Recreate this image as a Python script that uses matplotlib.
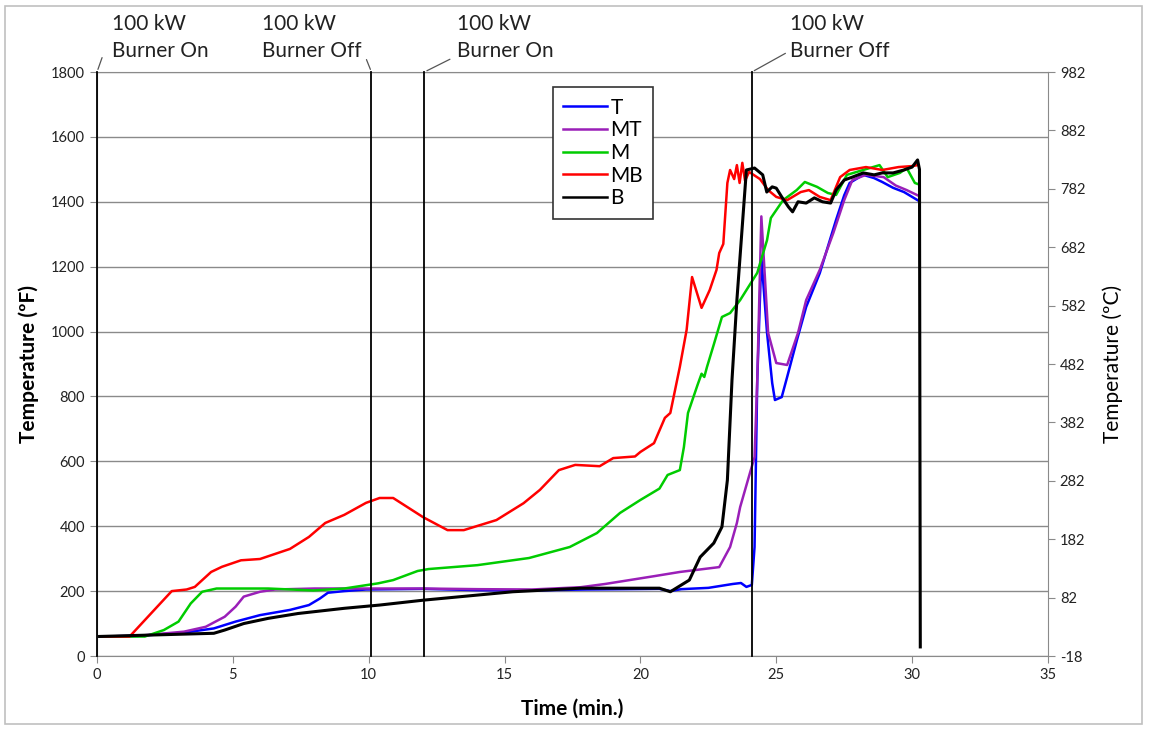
import matplotlib
matplotlib.use("Agg")
import matplotlib.pyplot as plt
from matplotlib.patches import Rectangle

plt.rcParams['font.family'] = ['Lato', 'DejaVu Sans']

# ---- data (time in min, temperature in deg F) ----
t_T = [0, 1.5, 3.2, 4.3, 5.1, 6.0, 7.1, 7.8, 8.2, 8.5, 9.1, 9.9, 12, 14, 16, 18, 20.7, 21.1,
       21.5, 22.5, 23.4, 23.7, 23.9, 24.1, 24.2, 24.3, 24.45, 24.66, 24.85, 24.95, 25.2, 25.4,
       25.76, 26.1, 26.6, 27.2, 27.5, 27.7, 28.2, 28.6, 28.9, 29.3, 29.7, 30.0, 30.2]
T = [60, 62, 72, 85, 106, 126, 142, 157, 177, 195, 200, 205, 207, 203, 202, 205, 207, 200,
     206, 210, 222, 225, 213, 219, 336, 851, 1230, 996, 841, 789, 798, 860,
     974, 1076, 1180, 1344, 1420, 1458, 1483, 1473, 1461, 1443, 1430, 1415, 1405]

t_MT = [0, 1.5, 3.2, 4.0, 4.7, 5.1, 5.4, 6.0, 6.55, 8, 10, 12, 14, 16, 17.8, 18.7, 19.6, 20.5,
        21.45, 22.9, 23.3, 23.55, 23.67, 24.03, 24.2, 24.3, 24.45, 24.7, 25.0, 25.4, 25.8,
        26.1, 26.6, 27.1, 27.5, 27.8, 28.3, 28.95, 29.4, 29.8, 30.2]
MT = [60, 62, 75, 90, 121, 152, 183, 198, 205, 208, 208, 208, 206, 205, 212, 222, 234, 246,
      259, 274, 336, 410, 459, 564, 613, 851, 1355, 996, 903, 897, 996,
      1097, 1190, 1304, 1405, 1467, 1483, 1476, 1450, 1436, 1420]

t_M = [0, 1.76, 2.46, 3.0, 3.45, 3.87, 4.4, 6.3, 7.96, 9.1, 10.35, 10.9, 11.8, 12.2, 14, 15.9,
       17.4, 18.4, 19.25, 20, 20.7, 21.0, 21.45, 21.6, 21.75, 22.1, 22.25, 22.35, 22.45, 22.7,
       23.0, 23.3, 23.67, 24.3, 24.66, 24.8, 25.25, 25.75, 26.05, 26.5, 26.9, 27.2, 27.6, 28.2,
       28.8, 29.1, 29.55, 29.8, 30.1, 30.2]
M = [60, 60, 80, 106, 162, 198, 208, 208, 202, 208, 224, 234, 262, 268, 280, 302,
     336, 379, 441, 481, 516, 558, 573, 644, 749, 835, 870, 860, 891, 960,
     1045, 1057, 1097, 1181, 1282, 1350, 1405, 1436, 1461, 1446, 1427, 1421, 1483, 1498,
     1513, 1476, 1489, 1504, 1458, 1455]

t_MB = [0, 1.2, 2.75, 3.3, 3.6, 4.2, 4.6, 5.3, 6.0, 7.1, 7.8, 8.4, 9.1, 9.9, 10.4, 10.9, 12.0,
        12.9, 13.5, 14.7, 15.7, 16.3, 17.0, 17.6, 18.5, 19.0, 19.8, 20.0, 20.5, 20.9, 21.1,
        21.45, 21.7, 21.9, 22.25, 22.55, 22.8, 22.9, 23.05, 23.2, 23.3, 23.45, 23.55, 23.65,
        23.75, 23.85, 24.0, 24.4, 24.7, 25.0, 25.4, 25.9, 26.2, 26.6, 27.0, 27.35, 27.7, 28.3,
        28.9, 29.5, 30.0, 30.2]
MB = [60, 60, 200, 205, 213, 259, 275, 295, 299, 330, 367, 410, 435, 472, 487, 487, 428,
      388, 388, 419, 471, 512, 573, 589, 585, 610, 615, 629, 656, 734, 749,
      891, 1005, 1168, 1073, 1128, 1190, 1242, 1270, 1458, 1498, 1470, 1513, 1458,
      1520, 1465, 1492, 1470, 1436, 1415, 1405, 1430, 1436, 1415, 1405, 1476, 1498, 1507,
      1498, 1507, 1510, 1513]

t_B = [0, 4.3, 4.7, 5.4, 6.3, 7.4, 9.1, 10.4, 12.0, 15.3, 17.8, 20.7, 21.1, 21.8, 22.2, 22.7,
       23.0, 23.2, 23.37, 23.55, 23.8, 23.9, 24.2, 24.5, 24.65, 24.85, 25.0, 25.2, 25.45, 25.6,
       25.8, 26.1, 26.4, 26.7, 27.0, 27.2, 27.5, 27.8, 28.2, 28.6, 28.9, 29.3, 29.7, 30.0,
       30.2, 30.27, 30.3]
B = [60, 70, 80, 100, 116, 131, 147, 157, 172, 198, 209, 209, 198, 234, 305, 348,
     398, 542, 851, 1097, 1384, 1498, 1504, 1483, 1430, 1446, 1442, 1415, 1384, 1369,
     1400, 1396, 1412, 1400, 1396, 1436, 1467, 1476, 1489, 1483, 1489, 1489, 1498, 1507,
     1529, 1500, 28]

event_times = [0, 10.1, 12.05, 24.1]
event_labels = ["100 kW\nBurner On", "100 kW\nBurner Off", "100 kW\nBurner On", "100 kW\nBurner Off"]

x_ticks = [0, 5, 10, 15, 20, 25, 30, 35]
f_ticks = [0, 200, 400, 600, 800, 1000, 1200, 1400, 1600, 1800]
c_labels = ["-18", "82", "182", "282", "382", "482", "582", "682", "782", "882", "982"]

series = [("T", t_T, T, "#0000ff"),
          ("MT", t_MT, MT, "#9a1fb8"),
          ("M", t_M, M, "#00cc00"),
          ("MB", t_MB, MB, "#ff0000"),
          ("B", t_B, B, "#000000")]

fig = plt.figure(figsize=(11.51, 7.30), dpi=100)
ax = fig.add_axes([97 / 1151, 1 - 656 / 730, (1048 - 97) / 1151, (656 - 72) / 730])

# light outer border of the chart area
fig.patches.append(Rectangle((5 / 1151, 6 / 730), 1137 / 1151, 718 / 730, transform=fig.transFigure,
                             fill=False, edgecolor="#c0c0c0", linewidth=1.2))

ax.set_xlim(0, 35)
ax.set_ylim(0, 1800)
ax.set_xticks(x_ticks)
ax.set_yticks(f_ticks)
ax.yaxis.grid(True, color="#8a8a8a", linewidth=1.0)
ax.set_axisbelow(True)
for sp in ax.spines.values():
    sp.set_color("#8a8a8a")
ax.tick_params(colors="#8a8a8a", labelcolor="#222222", labelsize=10.5, length=5, direction="out")

for name, tt, vv, col in series:
    lw = 2.2 if name == "B" else 1.8
    ax.plot(tt, vv, color=col, linewidth=lw, label=name, solid_joinstyle="round")

# event lines with small leaders to their labels
leader_dx = [6, -6, 28, 36]
leader_dy = [17, 15, 14, 20]
text_x = [112, 262, 457, 790]
for et, lab, dx, dy, tx in zip(event_times, event_labels, leader_dx, leader_dy, text_x):
    ax.plot([et, et], [0, 1800], color="black", linewidth=1.3, zorder=6, clip_on=False)
    x0, y0 = ax.transData.transform((et, 1800))
    ax.annotate("", xy=(x0, y0), xycoords="figure pixels",
                xytext=(x0 + dx, y0 + dy), textcoords="figure pixels",
                arrowprops=dict(arrowstyle="-", color="#555555", linewidth=0.9))
    fig.text(tx / 1151, 1 - 14 / 730, lab, ha="left", va="top", fontsize=15,
             color="#222222", linespacing=1.45)

ax.set_xlabel("Time (min.)", fontsize=15, fontweight="bold", labelpad=12)
ax.set_ylabel("Temperature (ºF)", fontsize=15, fontweight="bold", labelpad=9)

ax2 = ax.twinx()
ax2.set_ylim((0 - 32) / 1.8, (1800 - 32) / 1.8)
c_ticks = [(f - 32) / 1.8 for f in range(0, 1801, 180)]
ax2.set_yticks(c_ticks)
ax2.set_yticklabels(c_labels)
for sp in ax2.spines.values():
    sp.set_visible(False)
ax2.tick_params(colors="#8a8a8a", labelcolor="#222222", labelsize=10.5, length=5, direction="out")
ax2.set_ylabel("Temperature (ºC)", fontsize=15, labelpad=12)

leg = ax.legend(loc="upper left", bbox_to_anchor=(0.4795, 0.974), borderaxespad=0,
                fontsize=15, handlelength=2.1, handletextpad=0.15, labelspacing=0.13,
                fancybox=False, framealpha=1, edgecolor="#333333", borderpad=0.5)
leg.get_frame().set_linewidth(1.2)
leg.set_zorder(10)
for h in leg.get_lines():
    h.set_linewidth(1.8)

fig.savefig("out.png", dpi=100)
